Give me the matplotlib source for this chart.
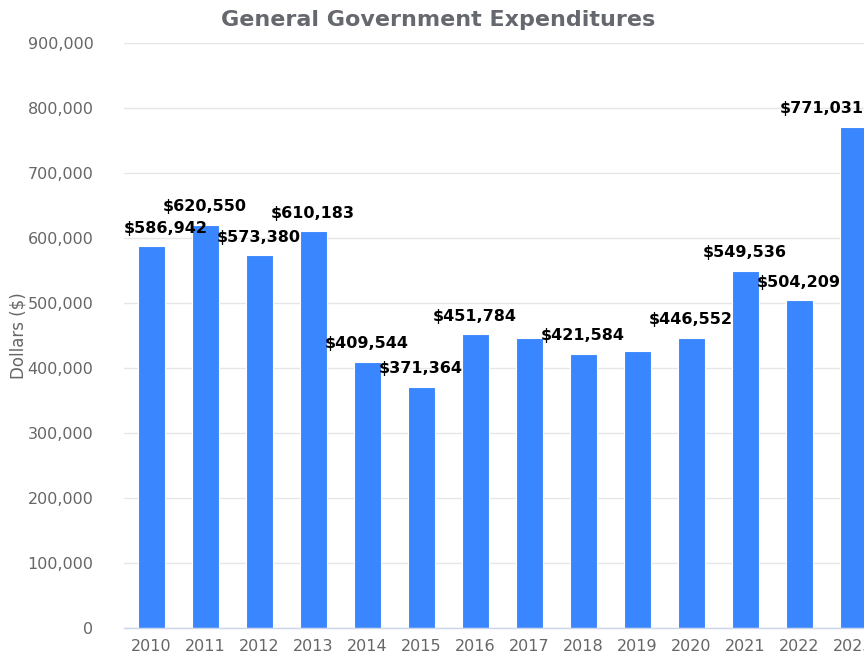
import numpy as np
import matplotlib
matplotlib.use("Agg")
import matplotlib.pyplot as plt
from matplotlib.ticker import FuncFormatter

years = ["2010", "2011", "2012", "2013", "2014", "2015", "2016",
         "2017", "2018", "2019", "2020", "2021", "2022", "2023"]
spending = [586942, 620550, 573380, 610183, 409544, 371364, 451784,
            446000, 421584, 426000, 446552, 549536, 504209, 771031]
# labels that the original chart hides because they overlap neighbours
hidden = {"2017", "2019"}

BAR = "#3a86ff"
GRAY = "#666666"

fig = plt.figure(figsize=(8.64, 6.59), dpi=100)
W, H = 864, 659
ax = fig.add_axes([124/W, (H-628)/H, (880-124)/W, (628-43)/H])

x = np.arange(len(years))
ax.bar(x, spending, width=0.5, color=BAR, edgecolor="white", linewidth=0.8, zorder=3)

ax.set_xlim(-0.5, len(years) - 0.5)
ax.set_ylim(0, 900000)
ax.set_yticks(np.arange(0, 900001, 100000))
ax.yaxis.set_major_formatter(FuncFormatter(lambda v, p: f"{int(v):,}"))
ax.set_xticks(x)
ax.set_xticklabels(years)
ax.tick_params(axis="both", length=0, colors=GRAY, labelsize=11.5)
ax.tick_params(axis="y", pad=22)
ax.tick_params(axis="x", pad=8)
ax.grid(axis="y", color="#e6e6e6", linewidth=1, zorder=0)
for s in ["top", "right", "left"]:
    ax.spines[s].set_visible(False)
ax.spines["bottom"].set_color("#ccd6eb")
ax.spines["bottom"].set_linewidth(1)
ax.spines["bottom"].set_zorder(4)

ax.set_ylabel("Dollars ($)", color=GRAY, fontsize=12, labelpad=8)
ax.yaxis.set_label_coords(-96/756, 0.5)

fig.text(438/W, 1 - 20/H, "General Government Expenditures", ha="center", va="center",
         fontsize=16, fontweight="bold", color="#65686e")

for i, (yr, v) in enumerate(zip(years, spending)):
    if yr in hidden:
        continue
    txt = f"${v:,}"
    ha, xp = "center", i
    if i == 0:
        ha, xp = "left", -0.5
    elif i == len(years) - 1:
        ha, xp = "right", (864 - 124) / 54 - 0.5
    ax.annotate(txt, (xp, v), xytext=(0, 13), textcoords="offset points",
                ha=ha, va="center", fontsize=11.5, fontweight="bold",
                color="black", zorder=5, annotation_clip=False)

fig.savefig("out.png", dpi=100)
